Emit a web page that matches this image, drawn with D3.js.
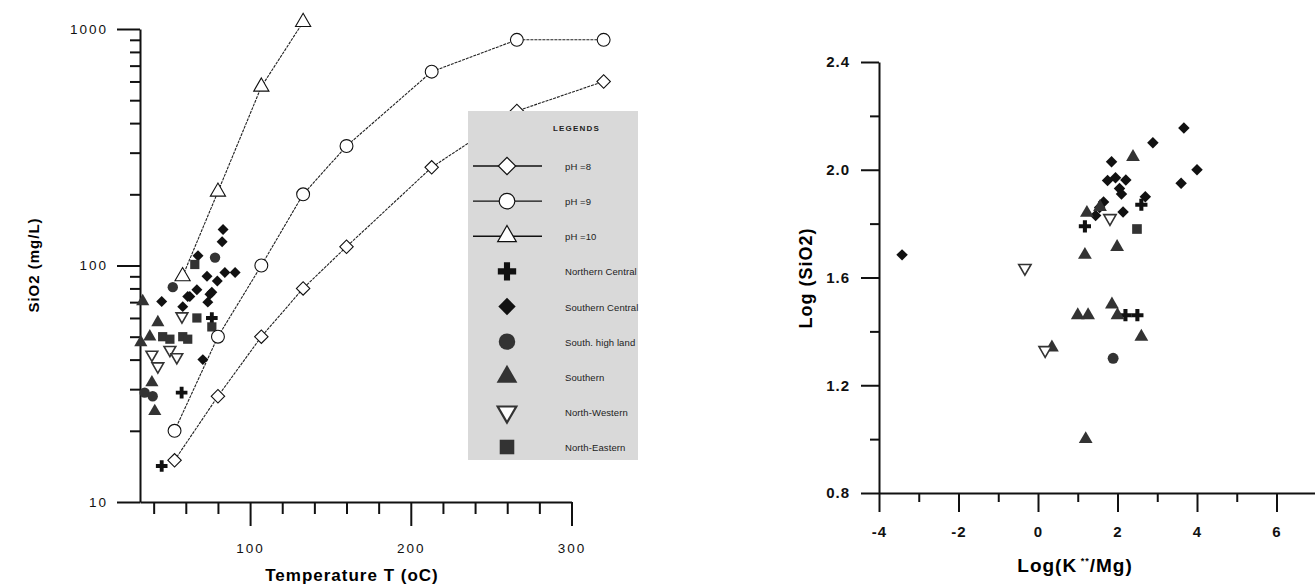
<!DOCTYPE html>
<html>
<head>
<meta charset="utf-8">
<script src="https://cdn.jsdelivr.net/npm/d3@7"></script>
<style>
  body { margin: 0; background: #fff; }
  svg { display: block; }
</style>
</head>
<body>
<svg id="chart" width="1315" height="586"></svg>
<script>
(function() {
  'use strict';

  // ---- left panel: silica solubility curves (T, SiO2 mg/L)
  var curveT = [53, 80, 107, 133, 160, 213, 266, 320];
  var ph8 = [15, 28, 50, 80, 120, 260, 450, 600];
  var ph9 = [20, 50, 100, 200, 320, 660, 900, 900];
  var ph10T = [58, 80, 107, 133];
  var ph10 = [90, 205, 570, 1070];

  // ---- left panel: samples [T, SiO2]
  var northernCentral = [[57.4, 29], [76.2, 60], [45, 14.2]];
  var southernCentral = [[83.2, 142], [82.6, 126], [67.6, 110], [84.3, 93.5], [90.7, 93.5], [73.2, 90],
    [79.6, 86], [66.9, 79], [62.5, 74], [76.2, 77], [75, 75.5], [73.7, 70], [61.2, 74],
    [45, 70.5], [58.1, 67], [70.6, 40]];
  var southHighLand = [[78.2, 108], [51.9, 81], [34.4, 29], [39.4, 28]];
  var southern = [[33.2, 70.5], [42.6, 57.5], [37.6, 50], [32, 47.3], [38.9, 32], [40.7, 24.2]];
  var northWestern = [[57.6, 61], [38.9, 42], [50.1, 44], [54.4, 41], [42.6, 37.5]];
  var northEastern = [[65.6, 101], [66.9, 60], [76.2, 55], [45.6, 50], [50.1, 48.8], [58.1, 50], [61.2, 48.8]];

  // ---- right panel: samples [Log(K/Mg), Log(SiO2)]
  var rNorthernCentral = [[1.18, 1.79], [2.6, 1.87], [2.2, 1.46], [2.5, 1.46]];
  var rSouthernCentral = [[-3.42, 1.684], [2.14, 1.843], [2.21, 1.962], [1.45, 1.83], [1.55, 1.86],
    [1.65, 1.88], [1.75, 1.96], [1.85, 2.03], [1.95, 1.97], [2.05, 1.93], [2.1, 1.91],
    [2.7, 1.9], [2.89, 2.1], [3.67, 2.155], [3.6, 1.95], [4.0, 2.0]];
  var rSouthHighLand = [[1.89, 1.3]];
  var rSouthern = [[1.23, 1.84], [1.56, 1.862], [1.99, 1.713], [2.39, 2.047], [1.18, 1.684],
    [1.0, 1.46], [1.26, 1.46], [1.86, 1.5], [2.0, 1.46], [2.6, 1.38], [0.35, 1.34], [1.2, 1.0]];
  var rNorthWestern = [[-0.33, 1.635], [0.18, 1.33], [1.81, 1.82]];
  var rNorthEastern = [[2.49, 1.78]];

  var legendLabels = ['pH =8', 'pH =9', 'pH =10', 'Northern Central', 'Southern Central',
    'South. high land', 'Southern', 'North-Western', 'North-Eastern'];

  var svg = d3.select('#chart');
  var FONT = 'Liberation Sans, Arial, sans-serif';

  // marker factory
  var shapes = {
    cross: { type: d3.symbolCross, rot: 0 },
    diamond: { type: d3.symbolSquare, rot: 45 },
    circle: { type: d3.symbolCircle, rot: 0 },
    triangle: { type: d3.symbolTriangle, rot: 0 },
    down: { type: d3.symbolTriangle, rot: 180 },
    square: { type: d3.symbolSquare, rot: 0 },
    odiamond: { type: d3.symbolSquare, rot: 45 }
  };

  function marker(g, kind, x, y, size, fill, stroke, sw) {
    var s = shapes[kind];
    g.append('path')
      .attr('d', d3.symbol().type(s.type).size(size)())
      .attr('transform', 'translate(' + x + ',' + y + ') rotate(' + s.rot + ')')
      .attr('fill', fill)
      .attr('stroke', stroke || 'none')
      .attr('stroke-width', sw || 0);
  }

  var groups = [
    { kind: 'cross', color: '#111', size: 75, left: northernCentral, right: rNorthernCentral },
    { kind: 'diamond', color: '#111', size: 60, left: southernCentral, right: rSouthernCentral },
    { kind: 'circle', color: '#333', size: 85, left: southHighLand, right: rSouthHighLand },
    { kind: 'triangle', color: '#333', size: 75, left: southern, right: rSouthern },
    { kind: 'down', color: '#fff', size: 60, left: northWestern, right: rNorthWestern, stroke: '#333' },
    { kind: 'square', color: '#333', size: 85, left: northEastern, right: rNorthEastern }
  ];

  // =================== LEFT PANEL ===================
  var x1 = d3.scaleLinear().domain([31.5, 300]).range([140, 571.5]);
  var y1 = d3.scaleLog().domain([10, 1000]).range([502, 29]);

  var left = svg.append('g');

  var yMinor = [];
  [10, 100].forEach(function(d) { for (var k = 2; k <= 9; k++) yMinor.push(d * k); });

  left.append('g')
    .attr('transform', 'translate(140,0)')
    .call(d3.axisLeft(y1).tickValues(yMinor).tickSize(10).tickFormat(''))
    .call(function(g) { g.select('.domain').remove(); });

  left.append('g')
    .attr('transform', 'translate(140,0)')
    .call(d3.axisLeft(y1).tickValues([10, 100, 1000]).tickSize(23).tickSizeOuter(0)
      .tickFormat(d3.format('d')).tickPadding(9));

  left.append('g')
    .attr('transform', 'translate(0,502)')
    .call(d3.axisBottom(x1).tickValues([40, 60, 80, 120, 140, 160, 180, 220, 240, 260, 280])
      .tickSize(12).tickFormat(''))
    .call(function(g) { g.select('.domain').remove(); });

  left.append('g')
    .attr('transform', 'translate(0,502)')
    .call(d3.axisBottom(x1).tickValues([100, 200, 300]).tickSize(24).tickSizeOuter(0)
      .tickPadding(17).tickFormat(d3.format('d')));

  left.selectAll('.domain, .tick line').attr('stroke', '#111').attr('stroke-width', 2);
  left.selectAll('.tick text').attr('font-family', FONT).attr('font-size', 13.5)
    .attr('letter-spacing', 2).attr('fill', '#111');

  left.append('text')
    .attr('transform', 'translate(39,265) rotate(-90)')
    .attr('text-anchor', 'middle')
    .attr('font-family', FONT).attr('font-weight', 'bold').attr('font-size', 15)
    .attr('letter-spacing', 1)
    .text('SiO2 (mg/L)');

  left.append('text')
    .attr('x', 352).attr('y', 581)
    .attr('text-anchor', 'middle')
    .attr('font-family', FONT).attr('font-weight', 'bold').attr('font-size', 17)
    .attr('letter-spacing', 1)
    .text('Temperature T (oC)');

  // solubility curves
  var line = d3.line().x(function(d) { return x1(d[0]); }).y(function(d) { return y1(d[1]); });
  var curves = [
    { kind: 'odiamond', pts: curveT.map(function(t, i) { return [t, ph8[i]]; }), size: 90 },
    { kind: 'circle', pts: curveT.map(function(t, i) { return [t, ph9[i]]; }), size: 130 },
    { kind: 'triangle', pts: ph10T.map(function(t, i) { return [t, ph10[i]]; }), size: 100 }
  ];
  curves.forEach(function(c) {
    left.append('path')
      .attr('d', line(c.pts))
      .attr('fill', 'none')
      .attr('stroke', '#222')
      .attr('stroke-width', 1.1)
      .attr('stroke-dasharray', '3,1');
  });

  // samples
  groups.forEach(function(gr) {
    gr.left.forEach(function(d) {
      marker(left, gr.kind, x1(d[0]), y1(d[1]), gr.size, gr.color, gr.stroke, gr.stroke ? 1.6 : 0);
    });
  });

  curves.forEach(function(c) {
    c.pts.forEach(function(d) {
      marker(left, c.kind, x1(d[0]), y1(d[1]), c.size, '#fff', '#111', 1.1);
    });
  });

  // legend
  var lg = svg.append('g');
  lg.append('rect')
    .attr('x', 468).attr('y', 111).attr('width', 170).attr('height', 349)
    .attr('fill', '#d9d9d9');
  lg.append('text')
    .attr('x', 553).attr('y', 131)
    .attr('font-family', FONT).attr('font-weight', 'bold').attr('font-size', 8)
    .attr('letter-spacing', 1.2).attr('fill', '#222')
    .text('LEGENDS');

  var legY = d3.scaleLinear().domain([0, 8]).range([166, 447]);
  var legKinds = [
    { kind: 'odiamond', size: 150, line: true },
    { kind: 'circle', size: 190, line: true },
    { kind: 'triangle', size: 150, line: true }
  ].concat(groups.map(function(g) { return { kind: g.kind, size: g.size * 2.5, color: g.color, stroke: g.stroke }; }));

  legendLabels.forEach(function(label, i) {
    var yy = legY(i);
    var k = legKinds[i];
    if (k.line) {
      lg.append('line').attr('x1', 473).attr('x2', 542).attr('y1', yy).attr('y2', yy)
        .attr('stroke', '#111').attr('stroke-width', 1.3);
      marker(lg, k.kind, 507, yy, k.size, '#fff', '#111', 1.2);
    } else {
      marker(lg, k.kind, 507, yy, k.size, k.color, k.stroke, k.stroke ? 2.2 : 0);
    }
    lg.append('text')
      .attr('x', 565).attr('y', yy + 4)
      .attr('font-family', FONT).attr('font-size', 9.5)
      .attr('letter-spacing', 0.1).attr('fill', '#222')
      .text(label);
  });

  // =================== RIGHT PANEL ===================
  var x2 = d3.scaleLinear().domain([-4, 7]).range([879, 879 + 11 * 39.75]);
  var y2 = d3.scaleLinear().domain([0.8, 2.4]).range([493, 62]);

  var right = svg.append('g');

  right.append('g')
    .attr('transform', 'translate(879,0)')
    .call(d3.axisLeft(y2).tickValues([1.0, 1.4, 1.8, 2.2]).tickSize(9).tickFormat(''))
    .call(function(g) { g.select('.domain').remove(); });
  right.append('g')
    .attr('transform', 'translate(879,0)')
    .call(d3.axisLeft(y2).tickValues([0.8, 1.2, 1.6, 2.0, 2.4]).tickSize(18).tickSizeOuter(0)
      .tickPadding(11).tickFormat(function(d) { return d.toFixed(1); }));

  right.append('g')
    .attr('transform', 'translate(0,493)')
    .call(d3.axisBottom(x2).tickValues([-3, -1, 1, 3, 5, 7]).tickSize(9).tickFormat(''))
    .call(function(g) { g.select('.domain').remove(); });
  right.append('g')
    .attr('transform', 'translate(0,493)')
    .call(d3.axisBottom(x2).tickValues([-4, -2, 0, 2, 4, 6]).tickSize(19).tickSizeOuter(0)
      .tickPadding(14).tickFormat(function(d) { return String(d); }));

  right.selectAll('.domain, .tick line').attr('stroke', '#111').attr('stroke-width', 2);
  right.selectAll('.tick text').attr('font-family', FONT).attr('font-weight', 'bold')
    .attr('font-size', 15).attr('letter-spacing', 1).attr('fill', '#111');

  right.append('text')
    .attr('transform', 'translate(812,278) rotate(-90)')
    .attr('text-anchor', 'middle')
    .attr('font-family', FONT).attr('font-weight', 'bold').attr('font-size', 18)
    .attr('letter-spacing', 1)
    .text('Log (SiO2)');

  var xt = right.append('text')
    .attr('x', 1075).attr('y', 572)
    .attr('text-anchor', 'middle')
    .attr('font-family', FONT).attr('font-weight', 'bold').attr('font-size', 19)
    .attr('letter-spacing', 1);
  xt.append('tspan').text('Log(K');
  xt.append('tspan').attr('font-size', 9).attr('dy', -8).text(' **');
  xt.append('tspan').attr('dy', 8).text('/Mg)');

  groups.forEach(function(gr) {
    gr.right.forEach(function(d) {
      marker(right, gr.kind, x2(d[0]), y2(d[1]), gr.size * 1.1, gr.color, gr.stroke, gr.stroke ? 1.6 : 0);
    });
  });
})();
</script>
</body>
</html>
